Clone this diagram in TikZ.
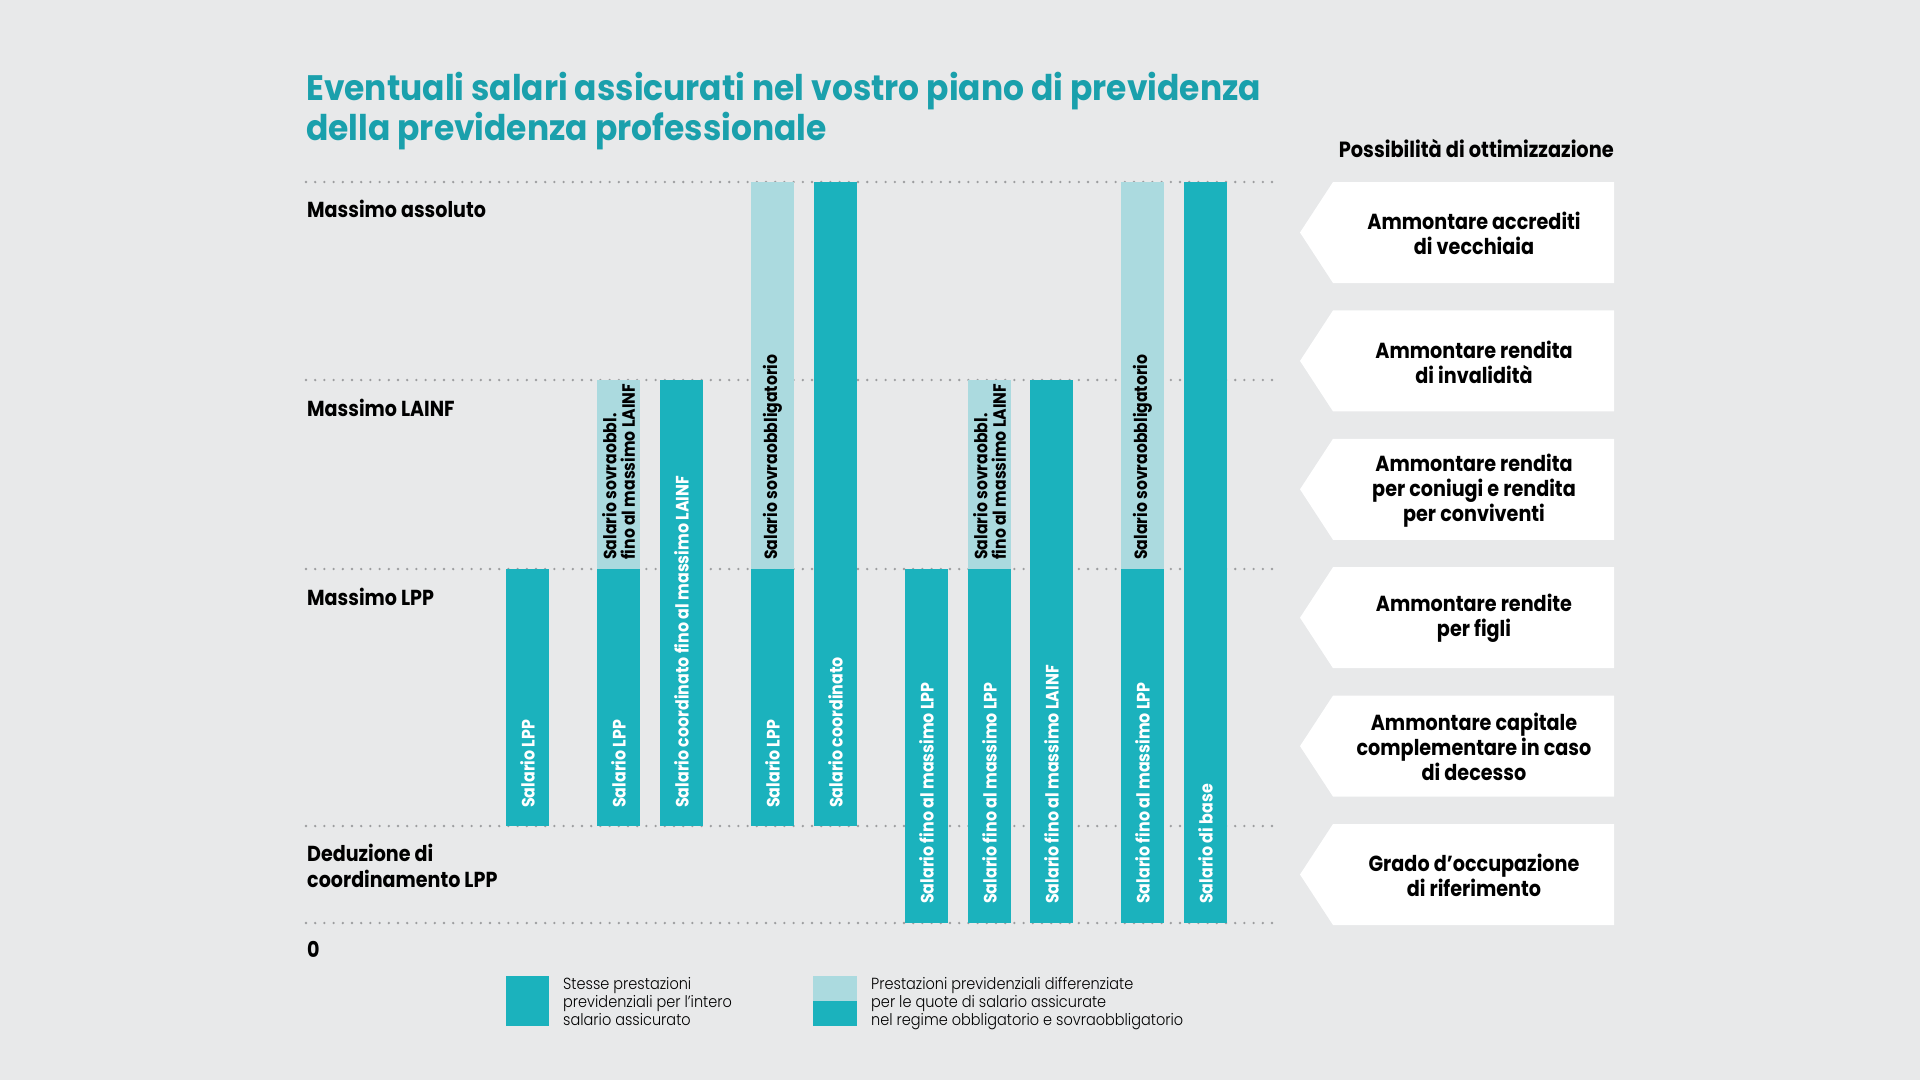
\documentclass[tikz,border=0pt]{standalone}
\usepackage{fontspec}
\setmainfont{Poppins}[FakeStretch=0.88]
\newfontfamily\flight{Poppins Light}[FakeStretch=0.9]
\newfontfamily\ftitle{Poppins}[FakeStretch=0.93]
\definecolor{bg}{HTML}{E8E9EA}
\definecolor{barDark}{HTML}{1BB2BD}
\definecolor{barLight}{HTML}{ABDADF}
\definecolor{titleC}{HTML}{1AA0AC}
\definecolor{dotC}{HTML}{9C9D9F}
\tikzset{
  dotline/.style={draw=dotC, line width=2.6pt, line cap=round, dash pattern=on 0pt off 9.2pt},
  dbar/.style={fill=barDark},
  lbar/.style={fill=barLight},
  wlab/.style={rotate=90, anchor=west, text=white, inner sep=0pt, font=\bfseries\fontsize{18}{19}\selectfont},
  blab/.style={rotate=90, anchor=west, text=black, align=left, inner sep=0pt, font=\bfseries\fontsize{17.8}{18.5}\selectfont},
  ylab/.style={anchor=west, align=left, inner sep=0pt, font=\bfseries\fontsize{21.7}{26.5}\selectfont},
  optbox/.style={fill=white},
  otext/.style={align=center, inner sep=0pt, font=\bfseries\fontsize{21.8}{25}\selectfont},
  leg/.style={anchor=north west, align=left, inner sep=0pt, font=\flight\fontsize{16.1}{17.8}\selectfont},
}
\begin{document}
\begin{tikzpicture}[x=1pt,y=-1pt]
\fill[bg] (0,0) rectangle (1920,1080);
\useasboundingbox (0,0) rectangle (1920,1080);

% title
\node[anchor=base west, align=left, inner sep=0pt, text=titleC,
  font=\ftitle\bfseries\fontsize{35.4}{40}\selectfont] (title) at (306,140)
  {Eventuali salari assicurati nel vostro piano di previdenza\\della previdenza professionale};

% dotted level lines
\foreach \yy in {182,380,569,826,923}
  \draw[dotline] (306,\yy) -- (1277,\yy);

% level labels
\node[ylab] (la) at (307,209) {Massimo assoluto};
\node[ylab] (ll) at (307,408) {Massimo LAINF};
\node[ylab] (lp) at (307,597) {Massimo LPP};
\node[ylab] (ld) at (307,866) {Deduzione di\\coordinamento LPP};
\node[ylab] (l0) at (307,949) {0};

% bars  (width 43)
% 1
\fill[dbar] (506,569) rectangle (549,826);
\node[wlab] (b1) at (527.5,808) {Salario LPP};
% 2
\fill[lbar] (597,380) rectangle (640,569);
\fill[dbar] (597,569) rectangle (640,826);
\node[blab] (b2l) at (618.5,560) {Salario sovraobbl.\\fino al massimo LAINF};
\node[wlab] (b2) at (618.5,808) {Salario LPP};
% 3
\fill[dbar] (660,380) rectangle (703,826);
\node[wlab] (b3) at (681.5,808) {Salario coordinato fino al massimo LAINF};
% 4
\fill[lbar] (751,182) rectangle (794,569);
\fill[dbar] (751,569) rectangle (794,826);
\node[blab] (b4l) at (772.5,560) {Salario sovraobbligatorio};
\node[wlab] (b4) at (772.5,808) {Salario LPP};
% 5
\fill[dbar] (814,182) rectangle (857,826);
\node[wlab] (b5) at (835.5,808) {Salario coordinato};
% 6
\fill[dbar] (905,569) rectangle (948,923);
\node[wlab] (b6) at (926.5,904) {Salario fino al massimo LPP};
% 7
\fill[lbar] (968,380) rectangle (1011,569);
\fill[dbar] (968,569) rectangle (1011,923);
\node[blab] (b7l) at (989.5,560) {Salario sovraobbl.\\fino al massimo LAINF};
\node[wlab] (b7) at (989.5,904) {Salario fino al massimo LPP};
% 8
\fill[dbar] (1030,380) rectangle (1073,923);
\node[wlab] (b8) at (1051.5,904) {Salario fino al massimo LAINF};
% 9
\fill[lbar] (1121,182) rectangle (1164,569);
\fill[dbar] (1121,569) rectangle (1164,923);
\node[blab] (b9l) at (1142.5,560) {Salario sovraobbligatorio};
\node[wlab] (b9) at (1142.5,904) {Salario fino al massimo LPP};
% 10
\fill[dbar] (1184,182) rectangle (1227,923);
\node[wlab] (b10) at (1205.5,904) {Salario di base};

% right column
\node[anchor=base east, inner sep=0pt, font=\bfseries\fontsize{22}{26}\selectfont] (opt) at (1614,157) {Possibilità di ottimizzazione};
\foreach \t/\nm [count=\i from 0] in {
  {Ammontare accrediti\\di vecchiaia}/o1,
  {Ammontare rendita\\di invalidità}/o2,
  {Ammontare rendita\\per coniugi e rendita\\per conviventi}/o3,
  {Ammontare rendite\\per figli}/o4,
  {Ammontare capitale\\complementare in caso\\di decesso}/o5,
  {Grado d’occupazione\\di riferimento}/o6}
{
  \pgfmathsetmacro\ytop{182+128.4*\i}
  \pgfmathsetmacro\ybot{\ytop+101}
  \pgfmathsetmacro\ymid{\ytop+50.5}
  \fill[optbox] (1300,\ymid) -- (1333,\ytop) -- (1614,\ytop) -- (1614,\ybot) -- (1333,\ybot) -- cycle;
  \node[otext] (\nm) at (1474,\ymid+1) {\t};
}

% legend
\fill[barDark] (506,976) rectangle (549,1026);
\node[leg] (leg1) at (563,977.5) {Stesse prestazioni\\previdenziali per l’intero\\salario assicurato};
\fill[barLight] (813,976) rectangle (857,1001);
\fill[barDark] (813,1001) rectangle (857,1026);
\node[leg] (leg2) at (871,977.5) {Prestazioni previdenziali differenziate\\per le quote di salario assicurate\\nel regime obbligatorio e sovraobbligatorio};
\end{tikzpicture}
\end{document}
